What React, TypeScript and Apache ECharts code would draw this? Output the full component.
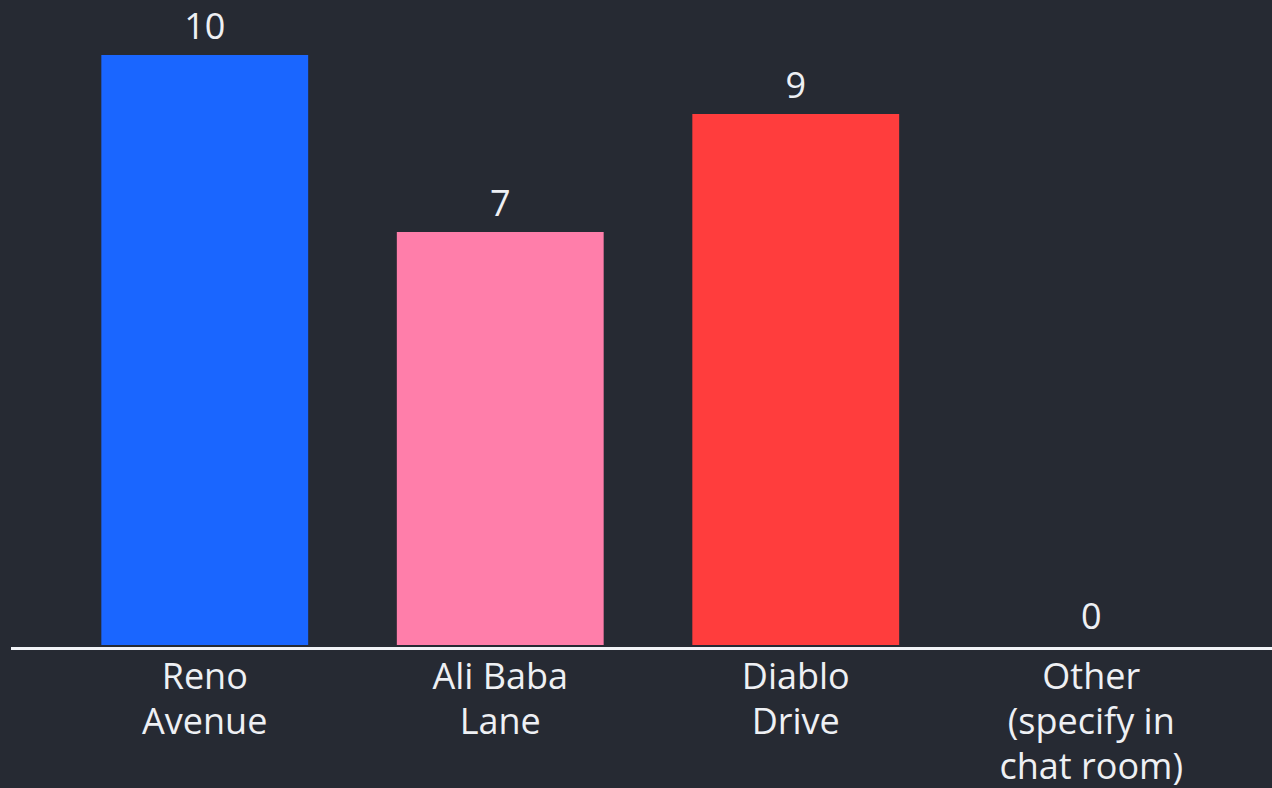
import React, { useEffect, useRef } from "react";
import * as echarts from "echarts";

const categories = ["Reno\nAvenue", "Ali Baba\nLane", "Diablo\nDrive", "Other\n(specify in\nchat room)"];
const values = [10, 7, 9, 0];
const barColors = ["#1a66ff", "#ff7eaa", "#ff3d3d", "#9b59ff"];

const BG = "#262a33";
const TEXT = "#eef0f4";
const FONT = "Open Sans";

export default function App() {
  const ref = useRef<HTMLDivElement>(null);
  useEffect(() => {
    if (!ref.current) return;
    const chart = echarts.init(ref.current, undefined, { renderer: "svg" });
    chart.setOption({
      animation: false,
      backgroundColor: BG,
      grid: { left: 57, right: 33, top: 55, bottom: 140, containLabel: false },
      xAxis: {
        type: "category",
        data: categories,
        axisLine: { show: false },
        axisTick: { show: false },
        axisLabel: {
          color: TEXT,
          fontFamily: FONT,
          fontSize: 36,
          lineHeight: 45,
          margin: 8,
          interval: 0,
        },
      },
      yAxis: {
        type: "value",
        min: 0,
        max: 10,
        show: false,
        splitLine: { show: false },
      },
      graphic: [
        {
          type: "line",
          shape: { x1: 11, y1: 648.5, x2: 1272, y2: 648.5 },
          style: { stroke: "#f2f4f8", lineWidth: 3 },
          z: 10,
        },
      ],
      series: [
        {
          type: "bar",
          data: values.map((v, i) => ({ value: v, itemStyle: { color: barColors[i] } })),
          barWidth: "70%",
          label: {
            show: true,
            position: "top",
            distance: 12,
            color: TEXT,
            fontFamily: FONT,
            fontSize: 36,
          },
        },
      ],
    });
    return () => chart.dispose();
  }, []);
  return (
    <div
      ref={ref}
      style={{ position: "fixed", left: 0, top: 0, width: 1272, height: 788 }}
    />
  );
}
